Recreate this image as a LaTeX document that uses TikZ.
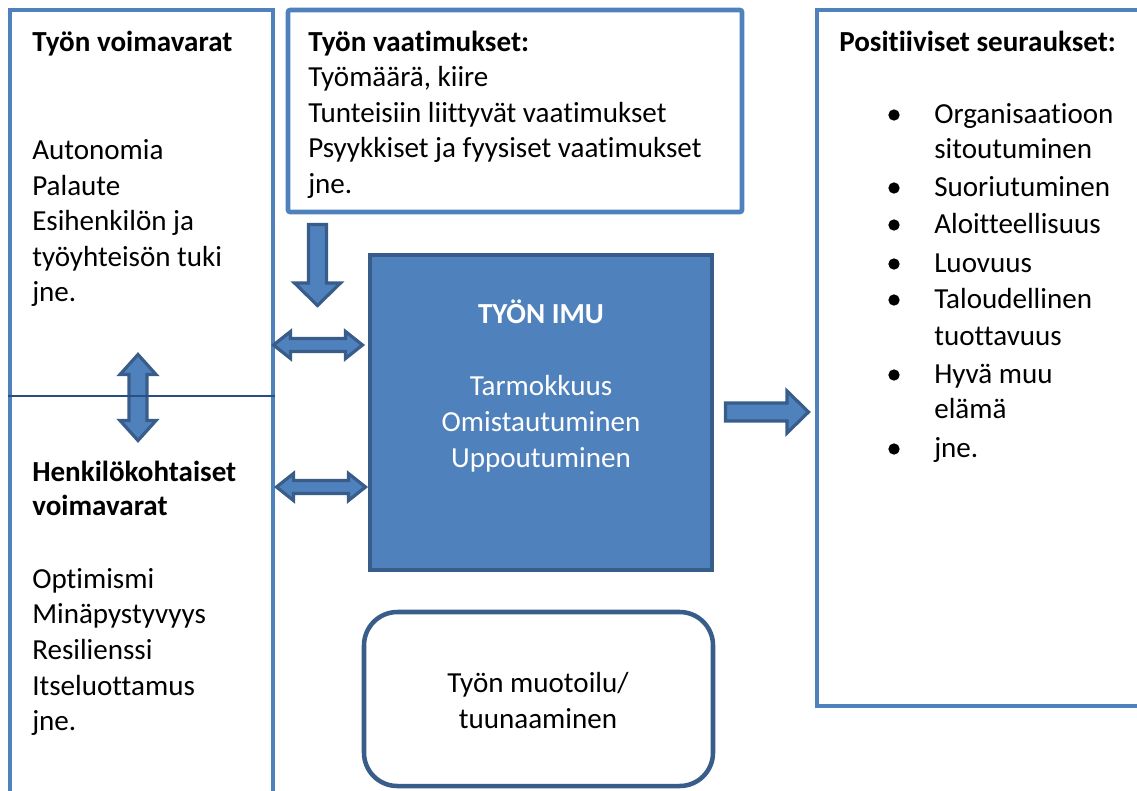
\documentclass[tikz,border=0pt]{standalone}
\usepackage{fontspec}
\setmainfont{Carlito}[Ligatures=NoCommon]
\usetikzlibrary{calc}
\definecolor{boxblue}{HTML}{4F81BD}
\definecolor{edgeblue}{HTML}{385D8A}
\definecolor{ruleblue}{HTML}{2A5082}

\begin{document}
\begin{tikzpicture}[x=0.75pt,y=-0.75pt,
  frame/.style={draw=boxblue, line width=3.4pt, inner sep=0pt},
  corebox/.style={draw=edgeblue, fill=boxblue, line width=3.4pt, inner sep=0pt},
  roundbox/.style={draw=edgeblue, line width=3.4pt, inner sep=0pt, rounded corners=25pt},
  blockarrow/.style={draw=edgeblue, fill=boxblue, line width=2.4pt, line join=miter},
  txt/.style={anchor=base west, inner sep=0pt, font=\fontsize{21.8}{26.6}\selectfont},
  ttl/.style={txt, font=\fontsize{21.8}{26.6}\selectfont\bfseries},
  ctxt/.style={txt, anchor=base},
  bulletdot/.style={fill=black, circle, inner sep=0pt, minimum size=8.5pt}
]
\useasboundingbox (0,0) rectangle (1137,790);
\clip (0,0) rectangle (1137,790);

% frames
\node[frame, minimum width=263*0.75pt, minimum height=820*0.75pt] (lbox) at (141.5,420) {};
\node[frame, rounded corners=1.5pt, minimum width=454*0.75pt, minimum height=202*0.75pt] (dbox) at (515,111) {};
\node[frame, minimum width=353*0.75pt, minimum height=696*0.75pt] (pbox) at (993.5,358) {};
\node[corebox, minimum width=342*0.75pt, minimum height=315*0.75pt] (imu) at (541,412.5) {};
\node[roundbox, minimum width=349*0.75pt, minimum height=174*0.75pt] (craft) at (538.5,699) {};

% block arrow: demands press down on engagement
\draw[blockarrow] (308.5,224.5) -- (326.5,224.5) -- (326.5,283) -- (340.5,283)
  -- (317.5,305.5) -- (294.5,283) -- (308.5,283) -- cycle;

% two-way arrows between resources and engagement
\foreach \yy/\xl/\xr in {345/273.5/362.5, 487/276.5/365.5}{
  \draw[blockarrow] (\xl,\yy) -- (\xl+17,\yy-13.5) -- (\xl+17,\yy-6.5)
    -- (\xr-17,\yy-6.5) -- (\xr-17,\yy-13.5) -- (\xr,\yy) -- (\xr-17,\yy+13.5)
    -- (\xr-17,\yy+6.5) -- (\xl+17,\yy+6.5) -- (\xl+17,\yy+13.5) -- cycle;
}

% two-way arrow between job and personal resources
\draw[blockarrow] (138,354.5) -- (156,374.5) -- (147,374.5) -- (147,420.5)
  -- (156,420.5) -- (138,440.5) -- (120,420.5) -- (129,420.5) -- (129,374.5)
  -- (120,374.5) -- cycle;

% arrow towards the outcomes
\draw[blockarrow] (725.5,403) -- (787,403) -- (787,391) -- (808.5,412)
  -- (787,433) -- (787,421) -- (725.5,421) -- cycle;

% divider between the two kinds of resources
\draw[ruleblue, line width=1.5pt] (lbox.west |- 0,396) -- (lbox.east |- 0,396);

% job resources
\node[ttl] (t1) at (32,51) {Työn voimavarat};
\node[txt] (a1) at (32,159) {Autonomia};
\node[txt] (a2) at (32,195) {Palaute};
\node[txt] (a3) at (32,230) {Esihenkilön ja};
\node[txt] (a4) at (32,266) {työyhteisön tuki};
\node[txt] (a5) at (32,301) {jne.};

% personal resources
\node[ttl] (t2) at (32,481) {Henkilökohtaiset};
\node[ttl] (t2b) at (32,515) {voimavarat};
\node[txt] (b1) at (32,588) {Optimismi};
\node[txt] (b2) at (32,623) {Minäpystyvyys};
\node[txt] (b3) at (32,659) {Resilienssi};
\node[txt] (b4) at (32,695) {Itseluottamus};
\node[txt] (b5) at (32,730) {jne.};

% job demands
\node[ttl] (t3) at (308,51) {Työn vaatimukset:};
\node[txt] (d1) at (308,86.5) {Työmäärä, kiire};
\node[txt] (d2) at (308,122) {Tunteisiin liittyvät vaatimukset};
\node[txt] (d3) at (308,157.5) {Psyykkiset ja fyysiset vaatimukset};
\node[txt] (d4) at (308,193) {jne.};

% work engagement
\node[ctxt, font=\fontsize{21.8}{26.6}\selectfont\bfseries, text=white] (e0) at (541,323) {TYÖN IMU};
\node[ctxt, text=white] (e1) at (541,395) {Tarmokkuus};
\node[ctxt, text=white] (e2) at (541,431) {Omistautuminen};
\node[ctxt, text=white] (e3) at (541,467) {Uppoutuminen};

% job crafting
\node[ctxt] (c1) at (538,692) {Työn muotoilu/};
\node[ctxt] (c2) at (538,728) {tuunaaminen};

% positive outcomes
\node[ttl] (t4) at (839,51) {Positiiviset seuraukset:};
\foreach \n/\yy/\s in {p1/123/Organisaatioon, p3/196/Suoriutuminen, p4/233/Aloitteellisuus,
                       p5/272/Luovuus, p6/308/Taloudellinen, p8/383/Hyvä muu, p10/457/jne.}{
  \node[bulletdot] (dot-\n) at (894,\yy-8) {};
  \node[txt] (\n) at (934,\yy) {\s};
}
\node[txt] (p2) at (934,158) {sitoutuminen};
\node[txt] (p7) at (934,345) {tuottavuus};
\node[txt] (p9) at (934,418) {elämä};
\end{tikzpicture}
\end{document}
